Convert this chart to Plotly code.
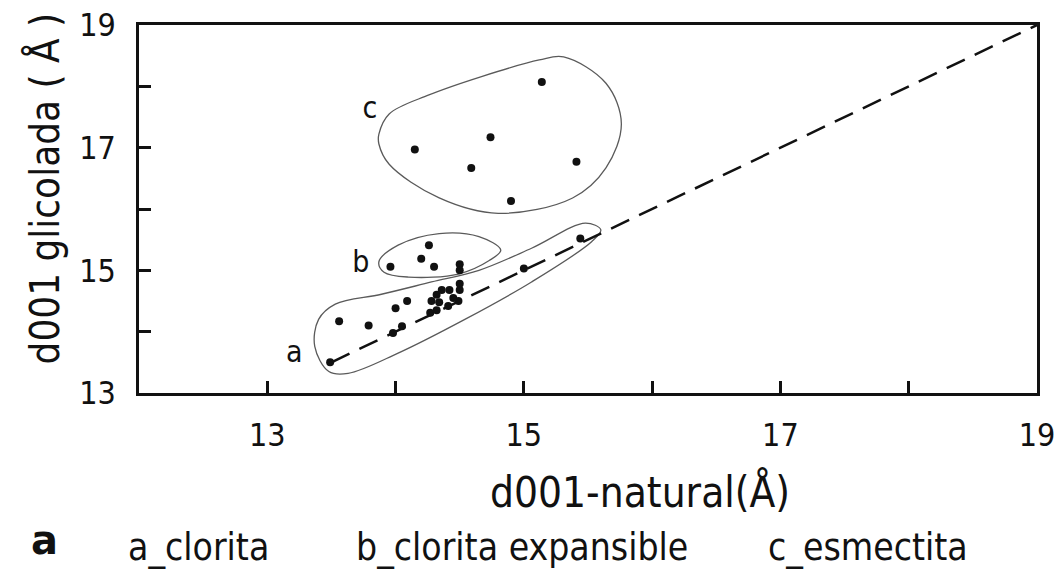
import plotly.graph_objects as go

# d001 spacing (Å): natural vs. glycolated, three mineral groups
clorita_x = [13.49, 13.56, 13.79, 13.98, 14.05, 14.00, 14.09, 14.27, 14.32, 14.28, 14.34,
             14.41, 14.32, 14.36, 14.42, 14.50, 14.50, 14.49, 14.45, 15.00, 15.44]
clorita_y = [13.50, 14.17, 14.10, 13.98, 14.09, 14.38, 14.50, 14.31, 14.35, 14.50, 14.48,
             14.42, 14.60, 14.68, 14.68, 14.68, 14.78, 14.50, 14.55, 15.03, 15.52]

expansible_x = [13.96, 14.26, 14.20, 14.30, 14.50, 14.50]
expansible_y = [15.06, 15.41, 15.19, 15.06, 15.10, 15.00]

esmectita_x = [15.14, 14.74, 14.15, 14.59, 15.41, 14.90]
esmectita_y = [18.07, 17.17, 16.97, 16.67, 16.77, 16.13]

# hand-drawn group outlines (data units)
outline_a_x = [13.48, 13.37, 13.40, 13.53, 13.89, 14.28, 14.65, 15.06, 15.48, 15.60, 15.53,
               15.06, 14.54, 14.02, 13.63]
outline_a_y = [13.35, 13.76, 14.20, 14.45, 14.61, 14.81, 15.00, 15.36, 15.77, 15.66, 15.47,
               14.81, 14.20, 13.65, 13.32]
outline_b_x = [13.87, 14.02, 14.34, 14.65, 14.82, 14.73, 14.49, 14.10, 13.91]
outline_b_y = [15.14, 15.41, 15.60, 15.55, 15.33, 15.16, 14.94, 14.89, 14.97]
outline_c_x = [13.87, 13.95, 14.26, 14.67, 15.12, 15.31, 15.64, 15.76, 15.64, 15.38, 14.80,
               14.34, 13.95, 13.87]
outline_c_y = [17.22, 17.55, 17.86, 18.16, 18.43, 18.48, 18.05, 17.39, 16.67, 16.18, 15.93,
               16.18, 16.73, 17.06]

group_labels = ["a", "b", "c"]
group_label_x = [13.21, 13.73, 13.80]
group_label_y = [13.62, 15.09, 17.61]

# 1:1 reference line
diag_x = [13.5, 19.0]
diag_y = [13.5, 19.0]

tick_vals = [13, 14, 15, 16, 17, 18, 19]
tick_text = ["13", "", "15", "", "17", "", "19"]

legend_items = ["a_clorita", "b_clorita expansible", "c_esmectita"]
legend_pos = [0.066, 0.427, 0.812]

FONT = "DejaVu Sans Condensed, Liberation Sans Narrow, Liberation Sans, Arial, sans-serif"
INK = "#111111"

fig = go.Figure()

for ox, oy in [(outline_a_x, outline_a_y), (outline_b_x, outline_b_y), (outline_c_x, outline_c_y)]:
    fig.add_trace(go.Scatter(
        x=ox + ox[:1], y=oy + oy[:1], mode="lines",
        line=dict(color="#5a5a5a", width=1.3, shape="spline", smoothing=1.0),
        hoverinfo="skip", showlegend=False))

fig.add_trace(go.Scatter(
    x=diag_x, y=diag_y, mode="lines",
    line=dict(color=INK, width=2.5, dash="20px,11px"),
    hoverinfo="skip", showlegend=False))

for gx, gy in [(clorita_x, clorita_y), (expansible_x, expansible_y), (esmectita_x, esmectita_y)]:
    fig.add_trace(go.Scatter(
        x=gx, y=gy, mode="markers",
        marker=dict(color=INK, size=8),
        showlegend=False))

fig.add_trace(go.Scatter(
    x=group_label_x, y=group_label_y, mode="text", text=group_labels,
    textfont=dict(family=FONT, size=30, color=INK),
    textposition="middle center", hoverinfo="skip", showlegend=False))

# axis titles
fig.add_annotation(text="d001-natural(Å)", x=0.558, y=-0.27, xref="paper", yref="paper",
                   xanchor="center", yanchor="middle",
                   showarrow=False, font=dict(family=FONT, size=42, color=INK))
fig.add_annotation(text="d001 glicolada ( Å )", x=-0.105, y=0.555, xref="paper", yref="paper",
                   xanchor="center", yanchor="middle", textangle=-90,
                   showarrow=False, font=dict(family=FONT, size=40, color=INK))

# figure caption row
fig.add_annotation(text="<b>a</b>", x=-0.105, y=-0.40, xref="paper", yref="paper",
                   xanchor="center", yanchor="middle",
                   showarrow=False, font=dict(family="DejaVu Sans, sans-serif", size=40, color=INK))
for txt, px in zip(legend_items, legend_pos):
    fig.add_annotation(text=txt, x=px, y=-0.42, xref="paper", yref="paper",
                       xanchor="center", yanchor="middle",
                       showarrow=False, font=dict(family=FONT, size=37, color=INK))

axis_common = dict(
    showline=True, mirror=True, linecolor=INK, linewidth=2.5,
    ticks="inside", ticklen=12, tickwidth=2.5, tickcolor=INK,
    showgrid=False, zeroline=False, automargin=False,
    tickfont=dict(family=FONT, size=32, color=INK),
    ticklabeloverflow="allow",
)

fig.update_xaxes(range=[12, 19], tickvals=tick_vals, ticktext=tick_text,
                 ticklabelstandoff=12, **axis_common)
fig.update_yaxes(range=[13, 19], tickvals=tick_vals, ticktext=tick_text,
                 ticklabelstandoff=14, **axis_common)

fig.update_layout(
    width=1054, height=569,
    margin=dict(l=139, r=17, t=25, b=176),
    paper_bgcolor="white", plot_bgcolor="white",
    showlegend=False,
)

fig.write_html("out.html")
